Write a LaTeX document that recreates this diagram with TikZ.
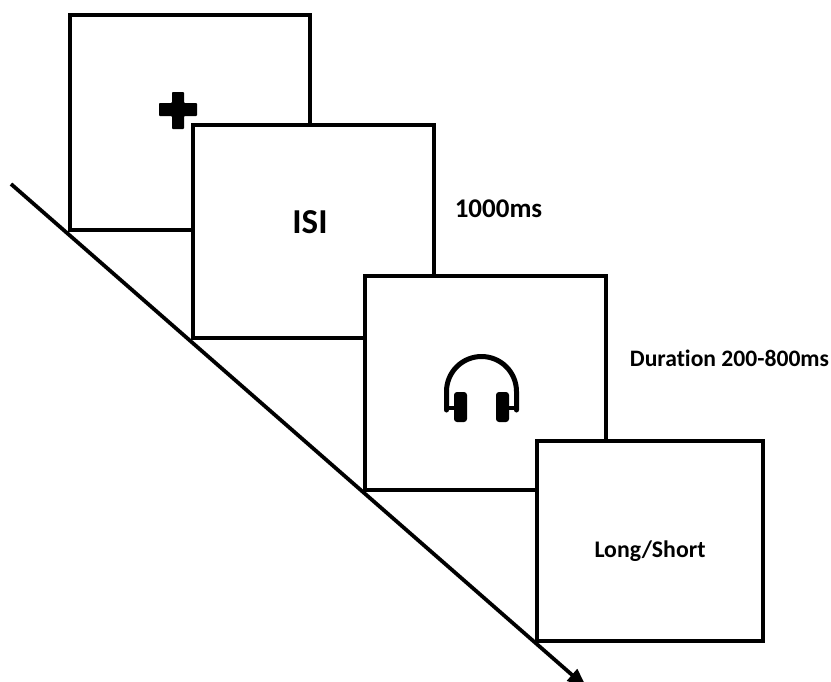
\documentclass[tikz,border=0pt]{standalone}
\usepackage{fontspec}
\setmainfont[Ligatures=NoCommon]{Carlito}
\usetikzlibrary{arrows.meta}
\tikzset{
  x=1pt,y=-1pt,
  screen/.style={draw=black,fill=white,line width=4pt,minimum width=#1,inner sep=0pt,outer sep=0pt,anchor=north west},
  lbl/.style={text=black,inner sep=0pt,anchor=center},
  glyph/.style={fill=black,draw=none},
  band/.style={draw=black,line width=5pt,line cap=round,line join=round},
  timeline/.style={draw=black,line width=3.8pt,-{Triangle[length=20pt,width=15pt]}}
}
\begin{document}
\begin{tikzpicture}
\useasboundingbox (0,0) rectangle (831,681);
\clip (0,0) rectangle (831,681);
\coordinate (ts) at (11,184);
\coordinate (te) at (587,688);
\draw[timeline] (ts) -- (te);
\node[screen=240.5pt,minimum height=214.5pt] (fix) at (69.7,15) {};
\node[screen=241.5pt,minimum height=213pt] (isi) at (192.5,125) {};
\node[screen=241pt,minimum height=213.5pt] (snd) at (365.3,276) {};
\node[screen=226pt,minimum height=200pt] (resp) at (537.3,441) {};
% fixation cross
\fill[glyph,rounded corners=0.8pt] (172,92) -- (184,92) -- (184,103) -- (197,103) -- (197,116) -- (184,116) -- (184,129) -- (172,129) -- (172,116) -- (159,116) -- (159,103) -- (172,103) -- cycle;
% headphones
\draw[band] (446.5,410) -- (446.5,391.5) arc[start angle=180,end angle=360,radius=35] -- (516.5,410);
\draw[draw=black,line width=4pt] (446.5,408) -- (456,408) (516.5,408) -- (507,408);
\fill[glyph,rounded corners=3pt] (454,392) rectangle (467,422);
\fill[glyph,rounded corners=3pt] (496,392) rectangle (509,422);
\node[lbl,font=\bfseries\fontsize{35}{38}\selectfont] (isit) at (310,222) {ISI};
\node[lbl,font=\bfseries\fontsize{27}{30}\selectfont] (t1) at (498.5,208.5) {1000ms};
\node[lbl,font=\bfseries\fontsize{23.6}{26}\selectfont] (t2) at (729.5,358) {Duration 200-800ms};
\node[lbl,font=\bfseries\fontsize{23.8}{26}\selectfont] (t3) at (650,551.5) {Long/Short};
\end{tikzpicture}
\end{document}
